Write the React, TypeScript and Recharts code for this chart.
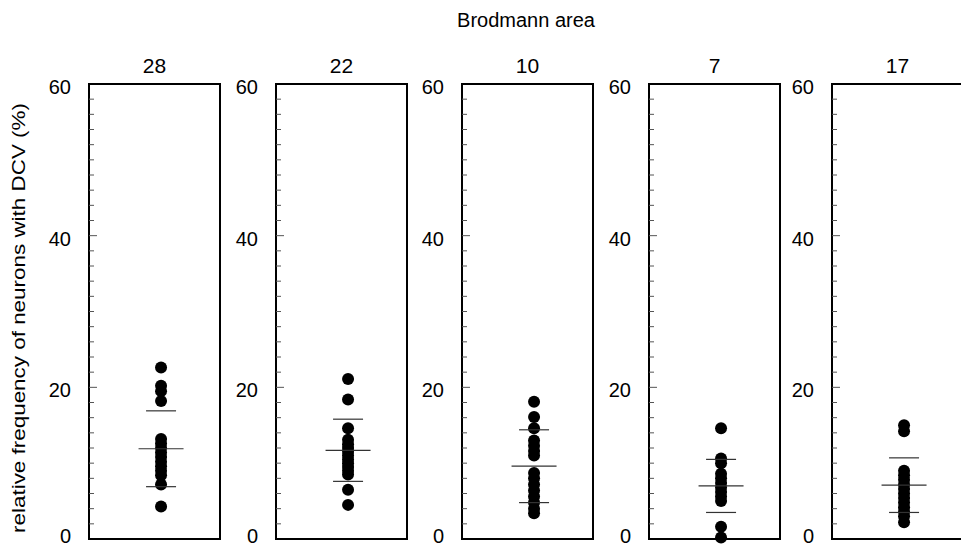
import React from "react";
import {
    ScatterChart,
    Scatter,
    XAxis,
    YAxis,
    ReferenceArea,
} from "recharts";

// Brodmann areas, one panel each
const AREAS = ["28", "22", "10", "7", "17"];

// relative frequency of neurons with DCV (%), per area
const FREQ_28 = [22.6, 20.2, 19.5, 18.2, 13.2, 12.6, 12.0, 11.4, 10.8, 10.2, 9.6, 9.0, 8.4, 7.2, 4.3];
const FREQ_22 = [21.1, 18.4, 14.6, 13.1, 12.5, 12.0, 11.5, 11.0, 10.5, 10.0, 9.5, 9.0, 8.5, 6.5, 4.5];
const FREQ_10 = [18.1, 16.1, 14.6, 13.0, 12.3, 11.6, 11.0, 8.7, 8.0, 7.2, 6.4, 5.6, 4.8, 4.0, 3.4];
const FREQ_7 = [14.6, 10.6, 10.0, 8.6, 8.0, 7.4, 6.8, 6.2, 5.6, 5.0, 1.6, 0.2];
const FREQ_17 = [15.0, 14.2, 9.0, 8.4, 7.8, 7.2, 6.6, 6.0, 5.4, 4.8, 4.2, 3.6, 3.0, 2.2];

const MEANS = [11.9, 11.7, 9.6, 7.0, 7.1];
const SDS = [5.0, 4.1, 4.8, 3.5, 3.6];

const Y_TICKS = [0, 2, 4, 6, 8, 10, 12, 14, 16, 18, 20, 22, 24, 26, 28, 30, 32, 34, 36, 38, 40, 42, 44, 46, 48, 50, 52, 54, 56, 58, 60];
const Y_LABELED = [0, 20, 40, 60];

const SERIES = [FREQ_28, FREQ_22, FREQ_10, FREQ_7, FREQ_17];

const PANEL_LEFT = [89, 276, 462, 649, 832];
const AXIS_W = 50;
const PLOT_W = 131;
const DOT_X = 0.55;
const FONT = "'Liberation Sans', Arial, sans-serif";

const YTick = ({ x, y, payload }: any) => {
    const v = payload.value;
    const major = v % 20 === 0;
    const edge = v === 0 || v === 60;
    return (
        <g>
            {!edge && (
                <line x1={x} x2={x + (major ? 8 : 5)} y1={y} y2={y} stroke="#555" strokeWidth={1} />
            )}
            {Y_LABELED.includes(v) && (
                <text x={x - 18} y={v === 0 ? y - 3 : y + 3} dy="0.35em" textAnchor="end" fontSize={20} fill="#000" fontFamily={FONT}>
                    {v}
                </text>
            )}
        </g>
    );
};

const HBar = (w: number) => (props: any) => {
    const { cx, cy } = props;
    return <line x1={cx - w / 2} x2={cx + w / 2} y1={cy} y2={cy} stroke="#333" strokeWidth={1.2} />;
};

const Dot = (props: any) => <circle cx={props.cx} cy={props.cy} r={6} fill="#000" />;

const Panel = ({ idx }: { idx: number }) => {
    const pts = SERIES[idx].map((v) => ({ x: DOT_X, y: v }));
    const mean = [{ x: DOT_X, y: MEANS[idx] }];
    const sd = [
        { x: DOT_X, y: MEANS[idx] + SDS[idx] },
        { x: DOT_X, y: MEANS[idx] - SDS[idx] },
    ];
    return (
        <div style={{ position: "absolute", left: PANEL_LEFT[idx] - AXIS_W, top: 0 }}>
            <ScatterChart
                width={AXIS_W + PLOT_W + 6}
                height={547}
                margin={{ top: 84, right: 6, bottom: 8, left: 0 }}
            >
                <XAxis type="number" dataKey="x" domain={[0, 1]} hide />
                <YAxis
                    type="number"
                    dataKey="y"
                    domain={[0, 60]}
                    ticks={Y_TICKS}
                    interval={0}
                    width={AXIS_W}
                    axisLine={false}
                    tickLine={false}
                    tickSize={0}
                    tickMargin={0}
                    tick={<YTick />}
                />
                <ReferenceArea
                    x1={0}
                    x2={1}
                    y1={0}
                    y2={60}
                    fill="none"
                    fillOpacity={0}
                    stroke="#000"
                    strokeWidth={2}
                    label={{ value: AREAS[idx], position: "top", offset: 11, fontSize: 21, fill: "#000", fontFamily: FONT }}
                />
                <Scatter data={pts} shape={Dot} isAnimationActive={false} />
                <Scatter data={mean} shape={HBar(45)} isAnimationActive={false} />
                <Scatter data={sd} shape={HBar(30)} isAnimationActive={false} />
            </ScatterChart>
        </div>
    );
};

export default function App() {
    return (
        <div
            style={{
                position: "absolute",
                left: 0,
                top: 0,
                width: 961,
                height: 547,
                overflow: "hidden",
                background: "#fff",
                fontFamily: FONT,
            }}
        >
            <div
                style={{
                    position: "absolute",
                    left: 426,
                    width: 200,
                    top: 9,
                    textAlign: "center",
                    fontSize: 20,
                    color: "#000",
                }}
            >
                Brodmann area
            </div>
            <div
                style={{
                    position: "absolute",
                    left: 19 - 250,
                    top: 318 - 12,
                    width: 500,
                    height: 24,
                    lineHeight: "24px",
                    textAlign: "center",
                    fontSize: 19,
                    transform: "rotate(-90deg) scaleX(1.18)",
                    color: "#000",
                    whiteSpace: "nowrap",
                }}
            >
                relative frequency of neurons with DCV (%)
            </div>
            {AREAS.map((_, i) => (
                <Panel key={i} idx={i} />
            ))}
        </div>
    );
}
